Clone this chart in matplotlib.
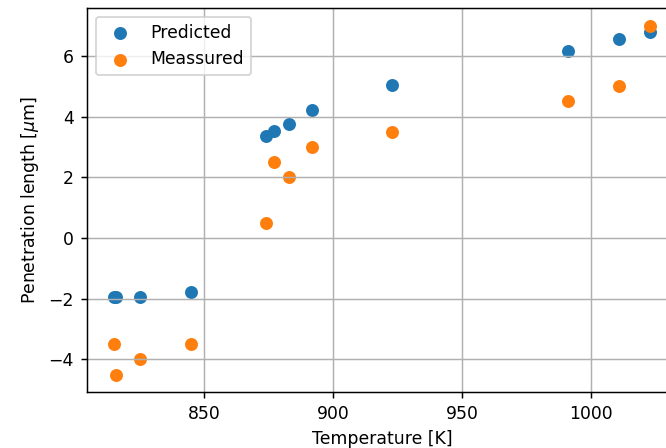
import matplotlib
matplotlib.use("Agg")
from matplotlib import pyplot as plt

# temperature [K]
temperature = [815, 816, 825, 845, 874, 877, 883, 892, 923, 991, 1011, 1023]
# penetration length [um]
predicted = [-1.95, -1.95, -1.93, -1.77, 3.37, 3.52, 3.77, 4.23, 5.05, 6.15, 6.55, 6.8]
measured = [-3.5, -4.5, -4.0, -3.5, 0.5, 2.5, 2.0, 3.0, 3.5, 4.5, 5.0, 7.0]

plt.rcParams["font.size"] = 9.3

fig = plt.figure(figsize=(5.0, 448 / 133.2), dpi=133.2)
ax = fig.add_axes([0.1306, 0.125, 0.886, 0.857])

ax.scatter(temperature, predicted, label="Predicted")
ax.scatter(temperature, measured, label="Meassured")
ax.set_xlabel("Temperature [K]")
ax.set_ylabel(r"Penetration length [$\mu$m]")
ax.grid(True)
ax.legend(loc="upper left")

fig.savefig("out.png", dpi=133.2)
